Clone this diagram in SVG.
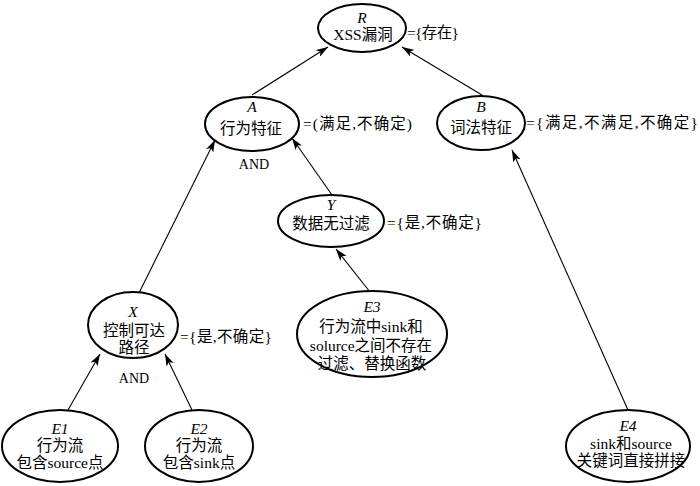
<svg xmlns="http://www.w3.org/2000/svg" width="700" height="486" viewBox="0 0 700 486">
<style>
.n{fill:#fff;stroke:#000;stroke-width:2}
text{font-family:"Liberation Serif","Noto Sans CJK SC",serif;font-size:15.5px;fill:#000}
.c{text-anchor:middle}
.i{font-style:italic}
.s{font-size:14px}
.e{stroke:#000;stroke-width:1.1;fill:none;marker-end:url(#ah)}
</style>
<defs>
<marker id="ah" viewBox="0 0 12 8" refX="12" refY="4" markerWidth="12" markerHeight="8" markerUnits="userSpaceOnUse" orient="auto">
<path d="M0,0 L12,4 L0,8 L3,4 Z" fill="#000"/>
</marker>
</defs>
<rect width="700" height="486" fill="#fff"/>
<g id="connectors">
<line class="e" x1="252" y1="95" x2="328" y2="47"/>
<line class="e" x1="482" y1="95" x2="402" y2="47"/>
<line class="e" x1="137" y1="297" x2="215" y2="140"/>
<line class="e" x1="332" y1="195" x2="292" y2="138"/>
<line class="e" x1="370" y1="292" x2="336" y2="249"/>
<line class="e" x1="68" y1="410" x2="100" y2="354"/>
<line class="e" x1="192" y1="410" x2="165" y2="354"/>
<line class="e" x1="628" y1="410" x2="512" y2="150"/>
</g>
<g id="R">
<ellipse class="n" cx="362" cy="28" rx="44" ry="24"/>
<text class="c i" x="362" y="23">R</text>
<text class="c" x="363" y="40">XSS漏洞</text>
<text x="407" y="38" textLength="52" lengthAdjust="spacing">={存在}</text>
</g>
<g id="A">
<ellipse class="n" cx="252" cy="124" rx="47" ry="27"/>
<text class="c i" x="252" y="112">A</text>
<text class="c" x="251" y="134">行为特征</text>
<text x="303" y="129" textLength="109" lengthAdjust="spacing">=(满足,不确定)</text>
<text class="c s" x="254" y="169">AND</text>
</g>
<g id="B">
<ellipse class="n" cx="481" cy="123" rx="44" ry="27"/>
<text class="c i" x="481" y="112">B</text>
<text class="c" x="481" y="133">词法特征</text>
<text x="526" y="128" textLength="172" lengthAdjust="spacing">={满足,不满足,不确定}</text>
</g>
<g id="Y">
<ellipse class="n" cx="331" cy="221" rx="53" ry="26"/>
<text class="c i" x="331" y="210">Y</text>
<text class="c" x="331" y="229">数据无过滤</text>
<text x="387" y="228" textLength="95" lengthAdjust="spacing">={是,不确定}</text>
</g>
<g id="X">
<ellipse class="n" cx="133" cy="325" rx="45" ry="33"/>
<text class="c i" x="133" y="317">X</text>
<text class="c" x="134" y="336">控制可达</text>
<text class="c" x="134" y="353">路径</text>
<text x="180" y="342" textLength="92" lengthAdjust="spacing">={是,不确定}</text>
<text class="c s" x="134" y="383">AND</text>
</g>
<g id="E3">
<ellipse class="n" cx="372" cy="334" rx="75" ry="43"/>
<text class="c i" x="372" y="312">E3</text>
<text class="c" x="371" y="332">行为流中sink和</text>
<text class="c" x="371" y="351">solurce之间不存在</text>
<text class="c" x="372" y="369">过滤、替换函数</text>
</g>
<g id="E1">
<ellipse class="n" cx="60" cy="446" rx="58" ry="36"/>
<text class="c i" x="60" y="434">E1</text>
<text class="c" x="60" y="451">行为流</text>
<text class="c" x="60" y="468">包含source点</text>
</g>
<g id="E2">
<ellipse class="n" cx="199" cy="446" rx="54" ry="36"/>
<text class="c i" x="199" y="434">E2</text>
<text class="c" x="199" y="451">行为流</text>
<text class="c" x="199" y="468">包含sink点</text>
</g>
<g id="E4">
<ellipse class="n" cx="628" cy="446" rx="62" ry="36"/>
<text class="c i" x="628" y="431">E4</text>
<text class="c" x="631" y="449">sink和source</text>
<text class="c" x="631" y="466">关键词直接拼接</text>
</g>
</svg>
